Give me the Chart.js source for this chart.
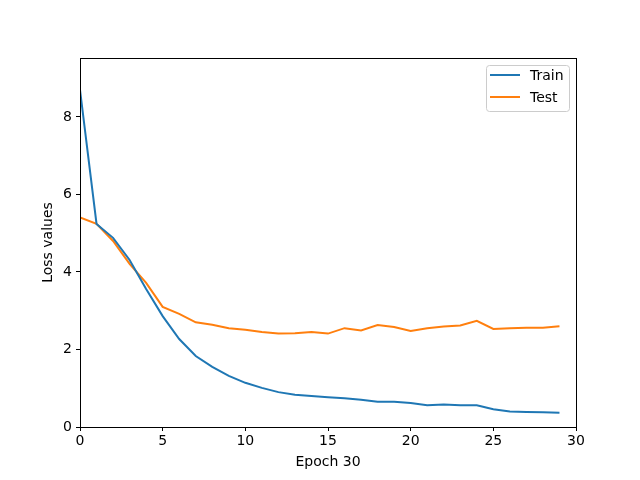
<!DOCTYPE html>
<html>
<head>
<meta charset="utf-8">
<script src="https://cdn.jsdelivr.net/npm/chart.js@4"></script>
<style>
  html, body { margin: 0; padding: 0; background: #fff; }
  #wrap { width: 640px; height: 480px; }
</style>
</head>
<body>
<div id="wrap"><canvas id="c" width="640" height="480"></canvas></div>
<script>
const epochs = Array.from({length: 30}, (_, i) => i);
const trainLoss = [8.70, 5.24, 4.88, 4.31, 3.56, 2.86, 2.27, 1.83, 1.55, 1.32,
                   1.14, 1.01, 0.90, 0.83, 0.80, 0.77, 0.74, 0.70, 0.65, 0.65,
                   0.62, 0.56, 0.58, 0.56, 0.56, 0.46, 0.40, 0.39, 0.38, 0.37];
const testLoss  = [5.41, 5.24, 4.80, 4.21, 3.72, 3.10, 2.92, 2.70, 2.64, 2.55,
                   2.51, 2.45, 2.41, 2.42, 2.45, 2.41, 2.55, 2.49, 2.63, 2.58,
                   2.48, 2.55, 2.59, 2.62, 2.74, 2.53, 2.55, 2.56, 2.56, 2.60];
const xTicks = [0, 5, 10, 15, 20, 25, 30];
const yTicks = [0, 2, 4, 6, 8];
const seriesNames = ['Train', 'Test'];
const seriesColors = ['#1f77b4', '#ff7f0e'];
const xTitle = 'Epoch 30';
const yTitle = 'Loss values';

const FONT = 'DejaVu Sans';

const framePlugin = {
  id: 'frame',
  afterDraw(chart) {
    const {ctx, chartArea: a} = chart;
    ctx.save();
    ctx.strokeStyle = '#000';
    ctx.lineWidth = 1;
    ctx.strokeRect(Math.round(a.left) + 0.5, Math.round(a.top) + 0.5,
                   Math.round(a.right - a.left), Math.round(a.bottom - a.top));
    // legend
    const bx = a.right - 90, by = a.top + 7, bw = 83, bh = 46;
    ctx.fillStyle = 'rgba(255,255,255,0.8)';
    ctx.strokeStyle = '#cccccc';
    ctx.beginPath();
    if (ctx.roundRect) ctx.roundRect(bx + 0.5, by + 0.5, bw, bh, 3); else ctx.rect(bx + 0.5, by + 0.5, bw, bh);
    ctx.fill();
    ctx.stroke();
    ctx.font = '14px "' + FONT + '"';
    ctx.textBaseline = 'middle';
    seriesNames.forEach((name, i) => {
      const y = by + 10 + i * 22;
      ctx.strokeStyle = seriesColors[i];
      ctx.lineWidth = 2;
      ctx.beginPath();
      ctx.moveTo(bx + 4, y);
      ctx.lineTo(bx + 34, y);
      ctx.stroke();
      ctx.fillStyle = '#000';
      ctx.fillText(name, bx + 44, y + 1);
    });
    ctx.restore();
  }
};

new Chart(document.getElementById('c'), {
  type: 'line',
  data: {
    datasets: [
      { label: seriesNames[0], data: epochs.map((e, i) => ({x: e, y: trainLoss[i]})),
        borderColor: seriesColors[0], borderWidth: 2, pointRadius: 0, tension: 0, fill: false },
      { label: seriesNames[1], data: epochs.map((e, i) => ({x: e, y: testLoss[i]})),
        borderColor: seriesColors[1], borderWidth: 2, pointRadius: 0, tension: 0, fill: false }
    ]
  },
  options: {
    responsive: false,
    animation: false,
    layout: { padding: { left: 40, right: 64, top: 58, bottom: 9 } },
    plugins: { legend: { display: false }, tooltip: { enabled: false } },
    scales: {
      x: {
        type: 'linear', min: 0, max: 30,
        afterBuildTicks: s => { s.ticks = xTicks.map(v => ({value: v})); },
        afterFit: s => { s.height = 44; },
        ticks: { color: '#000', font: { family: FONT, size: 14 }, padding: 2, maxRotation: 0 },
        grid: { drawOnChartArea: false, drawTicks: true, tickLength: 4, color: '#000', tickWidth: 1 },
        border: { display: true, color: '#000', width: 1 },
        title: { display: true, text: xTitle, color: '#000', font: { family: FONT, size: 14 }, padding: { top: 2, bottom: 0 } }
      },
      y: {
        type: 'linear', min: 0, max: 9.52,
        afterBuildTicks: s => { s.ticks = yTicks.map(v => ({value: v})); },
        afterFit: s => { s.width = 40; },
        ticks: { color: '#000', font: { family: FONT, size: 14 }, padding: 4 },
        grid: { drawOnChartArea: false, drawTicks: true, tickLength: 4, color: '#000', tickWidth: 1 },
        border: { display: true, color: '#000', width: 1 },
        title: { display: true, text: yTitle, color: '#000', font: { family: FONT, size: 14 }, padding: { top: 0, bottom: 0 } }
      }
    }
  },
  plugins: [framePlugin]
});
</script>
</body>
</html>
